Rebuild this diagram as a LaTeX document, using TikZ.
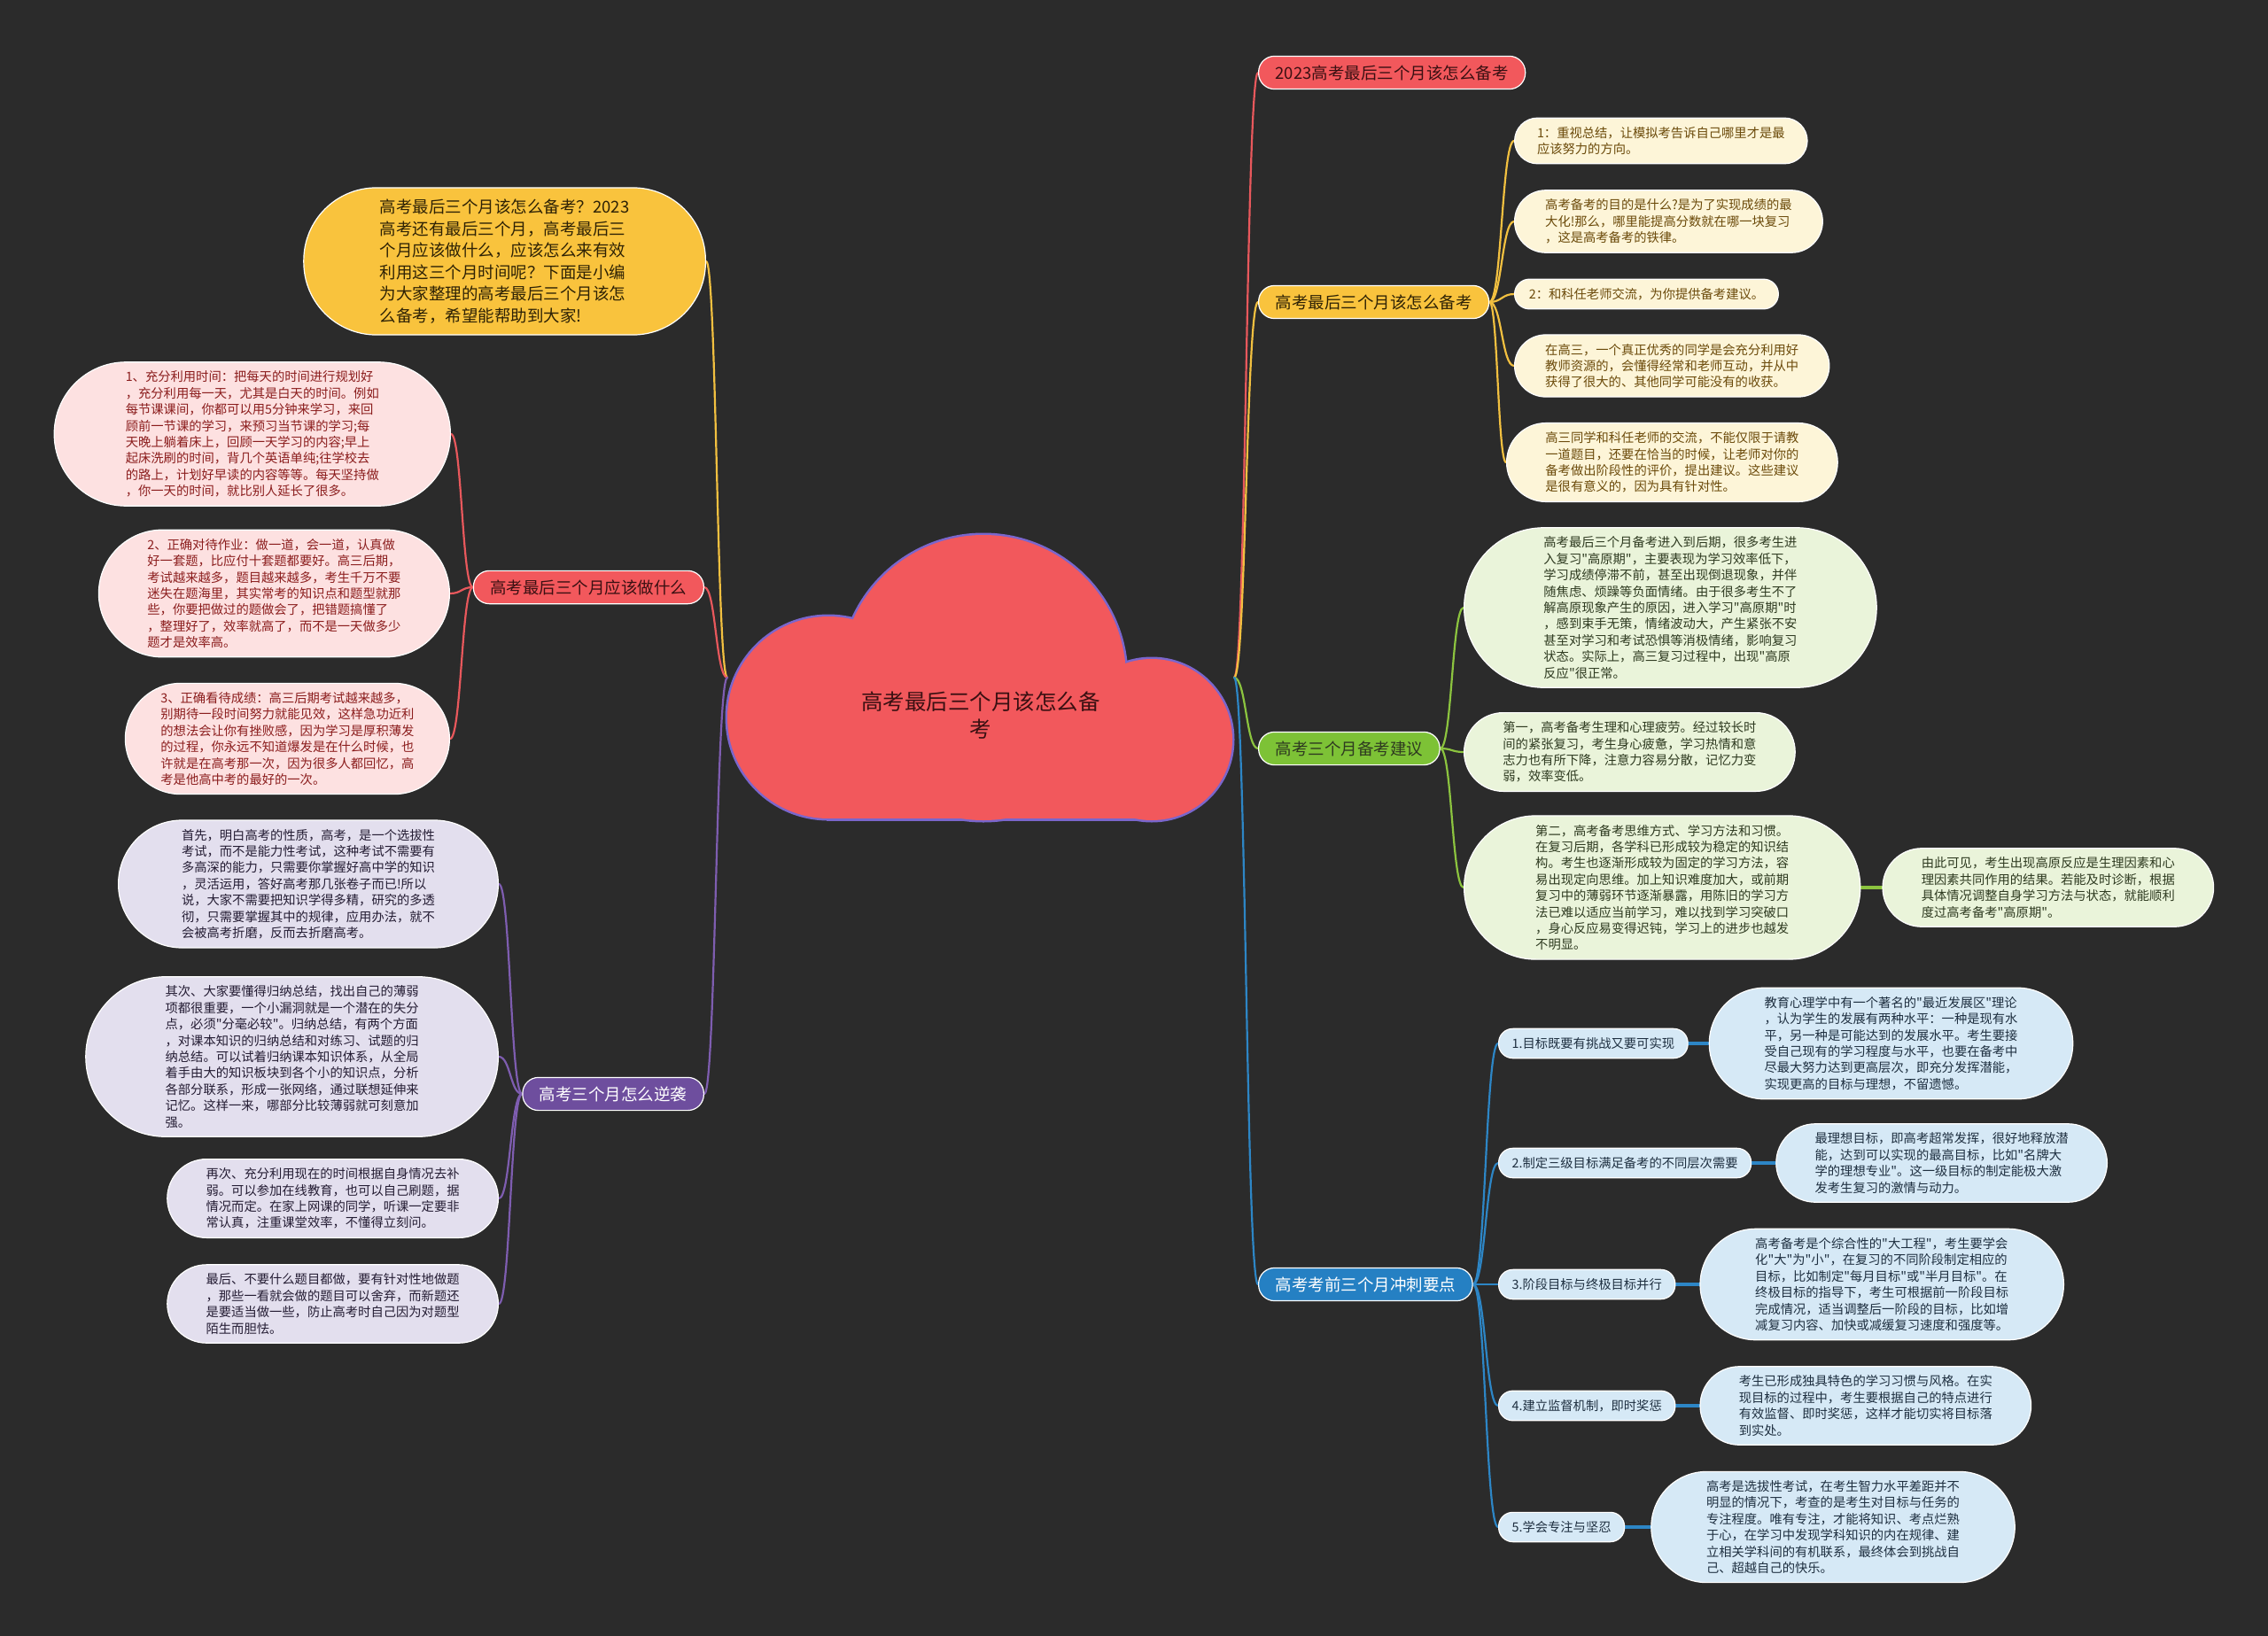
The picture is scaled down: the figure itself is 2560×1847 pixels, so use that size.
\documentclass[tikz,border=0pt]{standalone}
\usepackage{fontspec}
\setmainfont{Noto Sans CJK SC}[Ligatures=TeXOff]
\usepackage{xcolor}
\usepackage{tikz}
\usetikzlibrary{positioning, calc, backgrounds}

\definecolor{bgdark}{HTML}{2B2B2B}
\definecolor{rootred}{HTML}{F2585C}
\definecolor{rootline}{HTML}{7A66CC}
\definecolor{redline}{HTML}{E8585C}
\definecolor{redtext}{HTML}{3A1012}
\definecolor{darktext}{HTML}{2E2205}
\definecolor{pinkfill}{HTML}{FDE1E1}
\definecolor{pinktext}{HTML}{8B1D1D}
\definecolor{yellowfill}{HTML}{F9C33D}
\definecolor{yellowline}{HTML}{F2C040}
\definecolor{creamfill}{HTML}{FDF5D8}
\definecolor{creamtext}{HTML}{6B4A0A}
\definecolor{greenfill}{HTML}{7DC236}
\definecolor{greenline}{HTML}{8CC43F}
\definecolor{lightgreen}{HTML}{EAF4DA}
\definecolor{greentext}{HTML}{2E3A20}
\definecolor{bluefill}{HTML}{2580C3}
\definecolor{blueline}{HTML}{2D86C6}
\definecolor{lightblue}{HTML}{D6E9F6}
\definecolor{bluetext}{HTML}{1E2F40}
\definecolor{purplefill}{HTML}{6E4E9E}
\definecolor{purpleline}{HTML}{7E5DB0}
\definecolor{lavender}{HTML}{E3DFEE}
\definecolor{purpletext}{HTML}{241C33}

\newcommand{\rootfont}{\fontsize{24.5}{31}\selectfont}
\newcommand{\pillfont}{\fontsize{18.5}{24.5}\selectfont}
\newcommand{\leaffont}{\fontsize{14.3}{18.4}\selectfont}

\begin{document}
\begin{tikzpicture}[
    x=1pt, y=-1pt,
    pill/.style={rectangle, rounded corners=18, draw=white, line width=1.2pt, inner xsep=19pt, inner ysep=10pt, font=\pillfont},
    subpill/.style={pill, rounded corners=16, inner xsep=15pt, font=\leaffont, fill=lightblue, text=bluetext},
    leaf/.style={rectangle, rounded corners={9.2*#1+7.5}, draw=white, line width=1.2pt, inner xsep={9.2*#1+7}, inner ysep=10pt, align=left, font=\leaffont},
    pinkleaf/.style={leaf=#1, fill=pinkfill, text=pinktext},
    creamleaf/.style={leaf=#1, fill=creamfill, text=creamtext},
    greenleaf/.style={leaf=#1, fill=lightgreen, text=greentext},
    blueleaf/.style={leaf=#1, fill=lightblue, text=bluetext},
    lavleaf/.style={leaf=#1, fill=lavender, text=purpletext},
    link/.style={line width=2.2pt, line cap=round, to path={.. controls ($(\tikztostart)!0.5!(\tikztostart -| \tikztotarget)$) and ($(\tikztotarget)!0.5!(\tikztotarget -| \tikztostart)$) .. (\tikztotarget)}},
    bar/.style={line width=4pt}
]

\useasboundingbox (0,0) rectangle (2560,1847);
\begin{pgfonlayer}{background}
\fill[bgdark] (0,0) rectangle (2560,1847);
\end{pgfonlayer}

% Root cloud
\draw[rootline, line width=5pt] (935,810) circle[radius=114];
\draw[rootline, line width=5pt] (1110,765) circle[radius=161];
\draw[rootline, line width=5pt] (1300,835) circle[radius=91];
\draw[rootline, line width=5pt] (935,835) rectangle (1300,924);
\fill[rootred] (935,810) circle[radius=114];
\fill[rootred] (1110,765) circle[radius=161];
\fill[rootred] (1300,835) circle[radius=91];
\fill[rootred] (935,835) rectangle (1300,924);
\node (root) [align=center, font=\rootfont, text=redtext] at (1107,808) {高考最后三个月该怎么备\\考};
\coordinate (lc) at (821,765);
\coordinate (rc) at (1393,765);

% Left: intro
\node (l0) [pill, rounded corners=82, inner xsep=86pt, inner ysep=13pt, align=left, fill=yellowfill, text=darktext, anchor=east] at (797,295) {高考最后三个月该怎么备考？2023\\高考还有最后三个月，高考最后三\\个月应该做什么，应该怎么来有效\\利用这三个月时间呢？下面是小编\\为大家整理的高考最后三个月该怎\\么备考，希望能帮助到大家!};

% Left: what to do
\node (l1) [pill, fill=rootred, text=redtext, anchor=east] at (795,663) {高考最后三个月应该做什么};
\node (p1) [pinkleaf=8, anchor=east] at (509,490) {1、充分利用时间：把每天的时间进行规划好\\，充分利用每一天，尤其是白天的时间。例如\\每节课课间，你都可以用5分钟来学习，来回\\顾前一节课的学习，来预习当节课的学习;每\\天晚上躺着床上，回顾一天学习的内容;早上\\起床洗刷的时间，背几个英语单纯;往学校去\\的路上，计划好早读的内容等等。每天坚持做\\，你一天的时间，就比别人延长了很多。};
\node (p2) [pinkleaf=7, inner xsep=55pt, anchor=east] at (508,670) {2、正确对待作业：做一道，会一道，认真做\\好一套题，比应付十套题都要好。高三后期，\\考试越来越多，题目越来越多，考生千万不要\\迷失在题海里，其实常考的知识点和题型就那\\些，你要把做过的题做会了，把错题搞懂了\\，整理好了，效率就高了，而不是一天做多少\\题才是效率高。};
\node (p3) [pinkleaf=6, inner xsep=40pt, anchor=east] at (508,834) {3、正确看待成绩：高三后期考试越来越多，\\别期待一段时间努力就能见效，这样急功近利\\的想法会让你有挫败感，因为学习是厚积薄发\\的过程，你永远不知道爆发是在什么时候，也\\许就是在高考那一次，因为很多人都回忆，高\\考是他高中考的最好的一次。};

% Left: comeback
\node (l2) [pill, fill=purplefill, text=white, anchor=east] at (795,1235) {高考三个月怎么逆袭};
\node (u1) [lavleaf=7, anchor=east] at (563,998) {首先，明白高考的性质，高考，是一个选拔性\\考试，而不是能力性考试，这种考试不需要有\\多高深的能力，只需要你掌握好高中学的知识\\，灵活运用，答好高考那几张卷子而已!所以\\说，大家不需要把知识学得多精，研究的多透\\彻，只需要掌握其中的规律，应用办法，就不\\会被高考折磨，反而去折磨高考。};
\node (u2) [lavleaf=9, anchor=east] at (563,1193) {其次、大家要懂得归纳总结，找出自己的薄弱\\项都很重要，一个小漏洞就是一个潜在的失分\\点，必须"分毫必较"。归纳总结，有两个方面\\，对课本知识的归纳总结和对练习、试题的归\\纳总结。可以试着归纳课本知识体系，从全局\\着手由大的知识板块到各个小的知识点，分析\\各部分联系，形成一张网络，通过联想延伸来\\记忆。这样一来，哪部分比较薄弱就可刻意加\\强。};
\node (u3) [lavleaf=4, anchor=east] at (563,1353) {再次、充分利用现在的时间根据自身情况去补\\弱。可以参加在线教育，也可以自己刷题，据\\情况而定。在家上网课的同学，听课一定要非\\常认真，注重课堂效率，不懂得立刻问。};
\node (u4) [lavleaf=4, anchor=east] at (563,1472) {最后、不要什么题目都做，要有针对性地做题\\，那些一看就会做的题目可以舍弃，而新题还\\是要适当做一些，防止高考时自己因为对题型\\陌生而胆怯。};

% Right: title
\node (r1) [pill, fill=rootred, text=redtext, anchor=west] at (1420,82) {2023高考最后三个月该怎么备考};

% Right: how to prepare
\node (r2) [pill, fill=yellowfill, text=darktext, anchor=west] at (1420,341) {高考最后三个月该怎么备考};
\node (y1) [creamleaf=2, anchor=west] at (1709,159) {1：重视总结，让模拟考告诉自己哪里才是最\\应该努力的方向。};
\node (y2) [creamleaf=3, anchor=west] at (1709,250) {高考备考的目的是什么?是为了实现成绩的最\\大化!那么，哪里能提高分数就在哪一块复习\\，这是高考备考的铁律。};
\node (y3) [creamleaf=1, anchor=west] at (1709,332) {2：和科任老师交流，为你提供备考建议。};
\node (y4) [creamleaf=3, anchor=west] at (1709,413) {在高三，一个真正优秀的同学是会充分利用好\\教师资源的，会懂得经常和老师互动，并从中\\获得了很大的、其他同学可能没有的收获。};
\node (y5) [creamleaf=4, anchor=west] at (1700,522) {高三同学和科任老师的交流，不能仅限于请教\\一道题目，还要在恰当的时候，让老师对你的\\备考做出阶段性的评价，提出建议。这些建议\\是很有意义的，因为具有针对性。};

% Right: advice
\node (r3) [pill, fill=greenfill, text=greentext, anchor=west] at (1420,845) {高考三个月备考建议};
\node (g1) [greenleaf=9, anchor=west] at (1652,686) {高考最后三个月备考进入到后期，很多考生进\\入复习"高原期"，主要表现为学习效率低下，\\学习成绩停滞不前，甚至出现倒退现象，并伴\\随焦虑、烦躁等负面情绪。由于很多考生不了\\解高原现象产生的原因，进入学习"高原期"时\\，感到束手无策，情绪波动大，产生紧张不安\\甚至对学习和考试恐惧等消极情绪，影响复习\\状态。实际上，高三复习过程中，出现"高原\\反应"很正常。};
\node (g2) [greenleaf=4, anchor=west] at (1652,849) {第一，高考备考生理和心理疲劳。经过较长时\\间的紧张复习，考生身心疲惫，学习热情和意\\志力也有所下降，注意力容易分散，记忆力变\\弱，效率变低。};
\node (g3) [greenleaf=8, anchor=west] at (1652,1002) {第二，高考备考思维方式、学习方法和习惯。\\在复习后期，各学科已形成较为稳定的知识结\\构。考生也逐渐形成较为固定的学习方法，容\\易出现定向思维。加上知识难度加大，或前期\\复习中的薄弱环节逐渐暴露，用陈旧的学习方\\法已难以适应当前学习，难以找到学习突破口\\，身心反应易变得迟钝，学习上的进步也越发\\不明显。};
\node (g4) [greenleaf=4, right=24pt of g3] {由此可见，考生出现高原反应是生理因素和心\\理因素共同作用的结果。若能及时诊断，根据\\具体情况调整自身学习方法与状态，就能顺利\\度过高考备考"高原期"。};

% Right: key points
\node (r4) [pill, fill=bluefill, text=white, anchor=west] at (1420,1450) {高考考前三个月冲刺要点};
\node (b1) [subpill, anchor=west] at (1691,1178) {1.目标既要有挑战又要可实现};
\node (bt1) [blueleaf=6, right=23pt of b1] {教育心理学中有一个著名的"最近发展区"理论\\，认为学生的发展有两种水平：一种是现有水\\平，另一种是可能达到的发展水平。考生要接\\受自己现有的学习程度与水平，也要在备考中\\尽最大努力达到更高层次，即充分发挥潜能，\\实现更高的目标与理想，不留遗憾。};
\node (b2) [subpill, anchor=west] at (1691,1313) {2.制定三级目标满足备考的不同层次需要};
\node (bt2) [blueleaf=4, right=27pt of b2] {最理想目标，即高考超常发挥，很好地释放潜\\能，达到可以实现的最高目标，比如"名牌大\\学的理想专业"。这一级目标的制定能极大激\\发考生复习的激情与动力。};
\node (b3) [subpill, anchor=west] at (1691,1450) {3.阶段目标与终极目标并行};
\node (bt3) [blueleaf=6, right=27pt of b3] {高考备考是个综合性的"大工程"，考生要学会\\化"大"为"小"，在复习的不同阶段制定相应的\\目标，比如制定"每月目标"或"半月目标"。在\\终极目标的指导下，考生可根据前一阶段目标\\完成情况，适当调整后一阶段的目标，比如增\\减复习内容、加快或减缓复习速度和强度等。};
\node (b4) [subpill, anchor=west] at (1691,1587) {4.建立监督机制，即时奖惩};
\node (bt4) [blueleaf=4, right=27pt of b4] {考生已形成独具特色的学习习惯与风格。在实\\现目标的过程中，考生要根据自己的特点进行\\有效监督、即时奖惩，这样才能切实将目标落\\到实处。};
\node (b5) [subpill, anchor=west] at (1691,1724) {5.学会专注与坚忍};
\node (bt5) [blueleaf=6, right=29pt of b5] {高考是选拔性考试，在考生智力水平差距并不\\明显的情况下，考查的是考生对目标与任务的\\专注程度。唯有专注，才能将知识、考点烂熟\\于心，在学习中发现学科知识的内在规律、建\\立相关学科间的有机联系，最终体会到挑战自\\己、超越自己的快乐。};

% Connectors
\begin{pgfonlayer}{background}
\draw[link, yellowline] (lc) to (l0.east);
\draw[link, redline] (lc) to (l1.east);
\draw[link, purpleline] (lc) to (l2.east);
\draw[link, redline] (rc) to (r1.west);
\draw[link, yellowline] (rc) to (r2.west);
\draw[link, greenline] (rc) to (r3.west);
\draw[link, blueline] (rc) to (r4.west);
\foreach \n in {p1,p2,p3} \draw[link, redline] (l1.west) to (\n.east);
\foreach \n in {u1,u2,u3,u4} \draw[link, purpleline] (l2.west) to (\n.east);
\foreach \n in {y1,y2,y3,y4,y5} \draw[link, yellowline] (r2.east) to (\n.west);
\foreach \n in {g1,g2,g3} \draw[link, greenline] (r3.east) to (\n.west);
\draw[link, bar, greenline] (g3.east) to (g4.west);
\foreach \i in {1,...,5} {
  \draw[link, blueline] (r4.east) to (b\i.west);
  \draw[link, bar, blueline] (b\i.east) to (bt\i.west);
}
\end{pgfonlayer}

\end{tikzpicture}
\end{document}
